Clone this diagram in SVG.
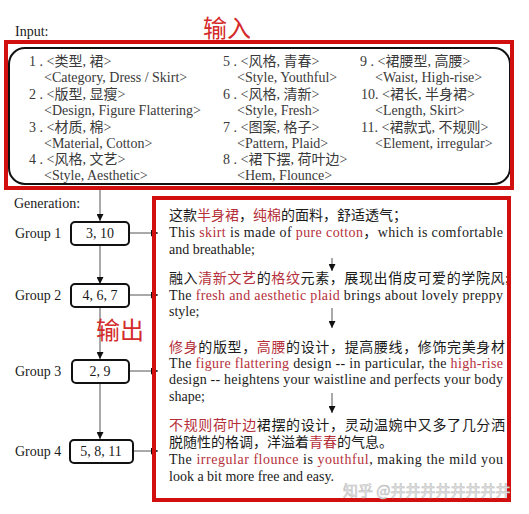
<svg xmlns="http://www.w3.org/2000/svg" width="529" height="514" viewBox="0 0 529 514">
<defs>
<style>
text{font-family:"Liberation Serif","Noto Sans CJK SC",serif;font-size:14px;fill:#1a1a1a}
.in{fill:#3a3a3a}
.r{fill:#b5303a}
.big{font-family:"Noto Sans CJK SC","Liberation Sans",sans-serif;font-size:24px;fill:#d42a2a}
.ln{stroke:#555;stroke-width:1;fill:none}
.gb{fill:#fff;stroke:#111;stroke-width:2}
.red{fill:none;stroke:#d10f0f;stroke-width:4}
.wm{font-family:"Noto Sans CJK SC","Liberation Sans",sans-serif;font-size:15px;fill:#f4f4f4;stroke:#bdbdbd;stroke-width:0.6}
</style>
<marker id="ah" viewBox="0 0 10 10" refX="10" refY="5" markerWidth="7" markerHeight="7" orient="auto" markerUnits="userSpaceOnUse">
<path d="M0,0 L10,5 L0,10 z" fill="#111"/>
</marker>
</defs>
<rect width="529" height="514" fill="#fff"/>

<text x="15" y="36">Input:</text>
<text class="big" x="203" y="37">输入</text>

<g id="input-box">
<rect x="9" y="48" width="501" height="136" rx="16" fill="#fff" stroke="#111" stroke-width="2"/>
<g class="items">
<text class="in" x="29" y="66">1 . &lt;类型, 裙&gt;</text>
<text class="in" x="44" y="82">&lt;Category, Dress / Skirt&gt;</text>
<text class="in" x="29" y="99">2 . &lt;版型, 显瘦&gt;</text>
<text class="in" x="44" y="115">&lt;Design, Figure Flattering&gt;</text>
<text class="in" x="29" y="132">3 . &lt;材质, 棉&gt;</text>
<text class="in" x="44" y="148">&lt;Material, Cotton&gt;</text>
<text class="in" x="29" y="164">4 . &lt;风格, 文艺&gt;</text>
<text class="in" x="44" y="180">&lt;Style, Aesthetic&gt;</text>

<text class="in" x="223" y="66">5 . &lt;风格, 青春&gt;</text>
<text class="in" x="237" y="82">&lt;Style, Youthful&gt;</text>
<text class="in" x="223" y="99">6 . &lt;风格, 清新&gt;</text>
<text class="in" x="237" y="115">&lt;Style, Fresh&gt;</text>
<text class="in" x="223" y="132">7 . &lt;图案, 格子&gt;</text>
<text class="in" x="237" y="148">&lt;Pattern, Plaid&gt;</text>
<text class="in" x="223" y="164">8 . &lt;裙下摆, 荷叶边&gt;</text>
<text class="in" x="237" y="180">&lt;Hem, Flounce&gt;</text>

<text class="in" x="360" y="66">9 . &lt;裙腰型, 高腰&gt;</text>
<text class="in" x="375" y="82">&lt;Waist, High-rise&gt;</text>
<text class="in" x="361" y="99">10. &lt;裙长, 半身裙&gt;</text>
<text class="in" x="375" y="115">&lt;Length, Skirt&gt;</text>
<text class="in" x="361" y="132">11. &lt;裙款式, 不规则&gt;</text>
<text class="in" x="375" y="148">&lt;Element, irregular&gt;</text>
</g>
</g>

<text x="14" y="208">Generation:</text>

<g id="connectors">
<line class="ln" x1="100" y1="188" x2="100" y2="221" marker-end="url(#ah)"/>
<line class="ln" x1="100" y1="245" x2="100" y2="284" marker-end="url(#ah)"/>
<line class="ln" x1="100" y1="307" x2="100" y2="359" marker-end="url(#ah)"/>
<line class="ln" x1="100" y1="383" x2="100" y2="439" marker-end="url(#ah)"/>
<line class="ln" x1="130" y1="233" x2="158" y2="233" marker-end="url(#ah)"/>
<line class="ln" x1="130" y1="295" x2="158" y2="295" marker-end="url(#ah)"/>
<line class="ln" x1="130" y1="371" x2="158" y2="371" marker-end="url(#ah)"/>
<line class="ln" x1="133" y1="451" x2="158" y2="451" marker-end="url(#ah)"/>
<line class="ln" x1="332" y1="258" x2="332" y2="271" marker-end="url(#ah)"/>
<line class="ln" x1="332" y1="308" x2="332" y2="328" marker-end="url(#ah)"/>
<line class="ln" x1="332" y1="393" x2="332" y2="413" marker-end="url(#ah)"/>
</g>

<g id="group1">
<text x="15" y="238">Group 1</text>
<rect class="gb" x="71" y="222" width="58" height="23" rx="4"/>
<text x="100" y="238" text-anchor="middle">3, 10</text>
</g>
<g id="group2">
<text x="15" y="300">Group 2</text>
<rect class="gb" x="71" y="284" width="58" height="23" rx="4"/>
<text x="100" y="300" text-anchor="middle">4, 6, 7</text>
</g>
<g id="group3">
<text x="15" y="376">Group 3</text>
<rect class="gb" x="72" y="360" width="57" height="23" rx="4"/>
<text x="100" y="376" text-anchor="middle">2, 9</text>
</g>
<g id="group4">
<text x="15" y="456">Group 4</text>
<rect class="gb" x="70" y="440" width="63" height="23" rx="4"/>
<text x="101" y="456" text-anchor="middle">5, 8, 11</text>
</g>

<text class="big" x="96" y="339">输出</text>

<g id="output">
<text x="169" y="220">这款<tspan class="r">半身裙</tspan>，<tspan class="r">纯棉</tspan>的面料，舒适透气；</text>
<text x="169" y="237" textLength="334" lengthAdjust="spacing">This <tspan class="r">skirt</tspan> is made of <tspan class="r">pure cotton</tspan>，which is comfortable</text>
<text x="169" y="254">and breathable;</text>

<text x="169" y="283" textLength="340" lengthAdjust="spacing">融入<tspan class="r">清新文艺</tspan>的<tspan class="r">格纹</tspan>元素，展现出俏皮可爱的学院风;</text>
<text x="169" y="300" textLength="334" lengthAdjust="spacing">The <tspan class="r">fresh and aesthetic plaid</tspan> brings about lovely preppy</text>
<text x="169" y="316">style;</text>

<text x="169" y="352" textLength="336" lengthAdjust="spacing"><tspan class="r">修身</tspan>的版型，<tspan class="r">高腰</tspan>的设计，提高腰线，修饰完美身材</text>
<text x="169" y="368" textLength="334" lengthAdjust="spacing">The <tspan class="r">figure flattering</tspan> design -- in particular, the <tspan class="r">high-rise</tspan></text>
<text x="169" y="384" textLength="334" lengthAdjust="spacing">design -- heightens your waistline and perfects your body</text>
<text x="169" y="401">shape;</text>

<text x="169" y="430" textLength="336" lengthAdjust="spacing"><tspan class="r">不规则荷叶边</tspan>裙摆的设计，灵动温婉中又多了几分洒</text>
<text x="169" y="447">脱随性的格调，洋溢着<tspan class="r">青春</tspan>的气息。</text>
<text x="169" y="464" textLength="334" lengthAdjust="spacing">The <tspan class="r">irregular flounce</tspan> is <tspan class="r">youthful</tspan>, making the mild you</text>
<text x="169" y="481">look a bit more free and easy.</text>
</g>

<rect class="red" x="6" y="42" width="506" height="146"/>
<rect class="red" x="154" y="198" width="355" height="302"/>

<text class="wm" x="343" y="496">知乎 @井井井井井井井井</text>
</svg>
